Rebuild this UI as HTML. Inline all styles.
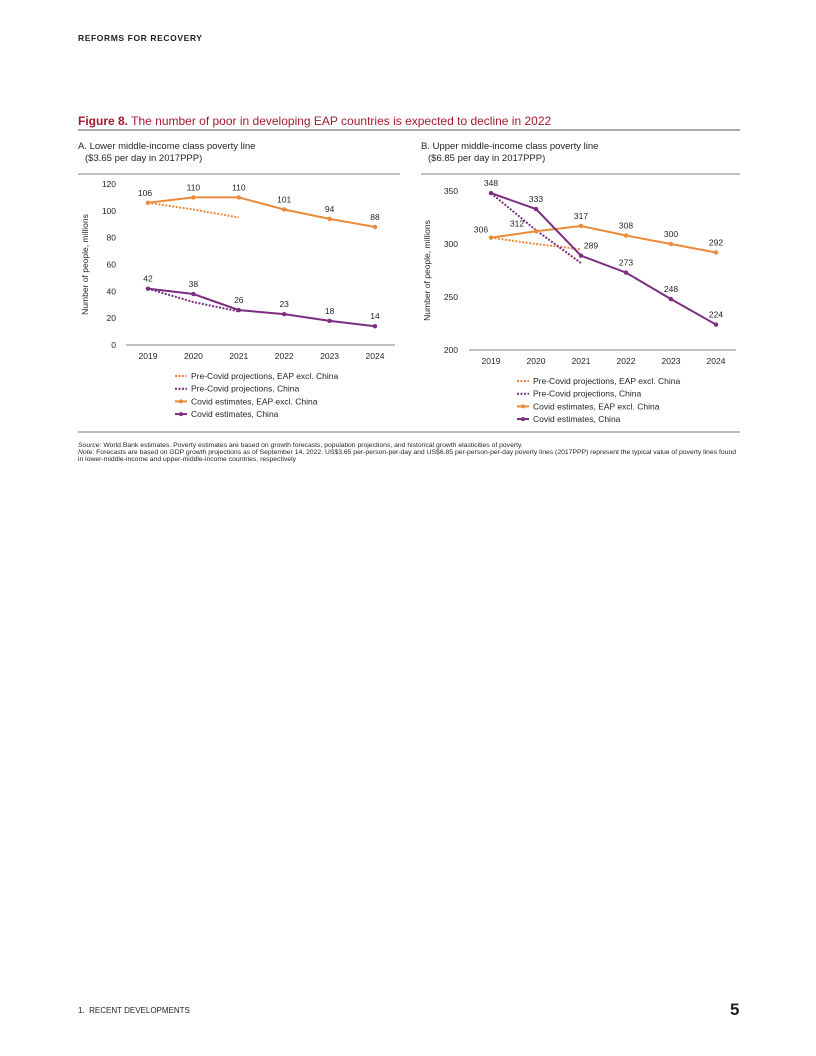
<!DOCTYPE html>
<html><head><meta charset="utf-8"><style>
body{margin:0;background:#fff;font-family:"Liberation Sans",sans-serif}
#pg{position:relative;width:816px;height:1056px;overflow:hidden}
.t{position:absolute;white-space:nowrap;color:#231f20}
</style></head><body>
<div id="pg">
<div class="t" style="left:78px;top:33px;font-size:8.5px;font-weight:bold;letter-spacing:0.6px">REFORMS FOR RECOVERY</div>
<div class="t" style="left:78px;top:114px;font-size:12px;color:#a5192e"><b>Figure 8.</b> The number of poor in developing EAP countries is expected to decline in 2022</div>
<svg id="chart" width="816" height="1056" style="position:absolute;left:0;top:0"></svg>
<div class="t" style="left:78px;top:443px;font-size:6.8px;line-height:6.8px"><i>Source:</i> World Bank estimates. Poverty estimates are based on growth forecasts, population projections, and historical growth elasticities of poverty.<br><i>Note:</i> Forecasts are based on GDP growth projections as of September 14, 2022. US$3.65 per-person-per-day and US$6.85 per-person-per-day poverty lines (2017PPP) represent the typical value of poverty lines found<br>in lower-middle-income and upper-middle-income countries, respectively</div>
<div class="t" style="left:78px;top:1006px;font-size:8px">1.&nbsp; RECENT DEVELOPMENTS</div>
<div class="t" style="left:730px;top:1000px;font-size:17px;font-weight:bold">5</div>
</div>
<script>
const years=['2019','2020','2021','2022','2023','2024'];
const aCovidEAP=[106,110,110,101,94,88];
const aCovidChina=[42,38,26,23,18,14];
const aPreEAP=[106,101,95];
const aPreChina=[42,32,25];
const aTicks=[0,20,40,60,80,100,120];
const bCovidEAP=[306,312,317,308,300,292];
const bCovidChina=[348,333,289,273,248,224];
const bPreEAP=[306,300,295];
const bPreChina=[348,313,282];
const bTicks=[200,250,300,350];
const legendLabels=['Pre-Covid projections, EAP excl. China','Pre-Covid projections, China','Covid estimates, EAP excl. China','Covid estimates, China'];
const OR='#ea8a3a',PU='#7b2d80';
const svg=document.getElementById('chart');
const NS='http://www.w3.org/2000/svg';
function mk(tag,at,txt){const e=document.createElementNS(NS,tag);for(const k in at)e.setAttribute(k,at[k]);if(txt!=null)e.textContent=txt;svg.appendChild(e);return e;}
function panel(p){
  const x=i=>p.x0+i*p.dx;
  const y=v=>p.yb-(v-p.vmin)/(p.vmax-p.vmin)*(p.yb-p.yt);
  let e=mk('line',{x1:p.lx1,x2:p.lx2,y1:p.ty+25,y2:p.ty+25,stroke:'#999','stroke-width':1.2});
  
  e=mk('text',{x:p.lx1,y:p.ty,'font-size':9.5,fill:'#231f20'},p.t1);
  
  e=mk('text',{x:p.lx1+7,y:p.ty+12,'font-size':9.5,fill:'#231f20'},p.t2);
  
  p.ticks.forEach(v=>{const t=mk('text',{x:p.tx,y:y(v)+3,'font-size':8.5,'text-anchor':'end',fill:'#231f20'},v);
    });
  e=mk('line',{x1:p.x0-22,x2:x(5)+20,y1:p.yb,y2:p.yb,stroke:'#999','stroke-width':1.3});
  
  years.forEach((yr,i)=>{const t=mk('text',{x:x(i),y:p.yb+14,'font-size':8.5,'text-anchor':'middle',fill:'#231f20'},yr);
    });
  e=mk('text',{x:0,y:0,'font-size':8.5,'text-anchor':'middle',fill:'#231f20',transform:`translate(${p.ax},${(p.yt+p.yb)/2}) rotate(-90)`},'Number of people, millions');
  
  const pts=a=>a.map((v,i)=>x(i)+','+y(v)).join(' ');
  [[p.preE,OR,'pre-covid-eap-line'],[p.preC,PU,'pre-covid-china-line']].forEach(([a,c,n])=>{
    const l=mk('polyline',{points:pts(a),fill:'none',stroke:c,'stroke-width':2,'stroke-dasharray':'2 1.5'});
    });
  [[p.covE,OR,'covid-eap'],[p.covC,PU,'covid-china']].forEach(([a,c,n],si)=>{
    const l=mk('polyline',{points:pts(a),fill:'none',stroke:c,'stroke-width':2});
    
    a.forEach((v,i)=>{const d=mk('circle',{cx:x(i),cy:y(v),r:2.2,fill:c});
      
      const off=p.lab[si][i];
      const t=mk('text',{x:x(i)+off[0],y:y(v)+off[1],'font-size':8.5,'text-anchor':'middle',fill:'#231f20'},v);
      });
  });
  legendLabels.forEach((s,i)=>{const ly=p.ly+i*12.7,c=i%2?PU:OR;
    const l=mk('line',{x1:p.lgx,x2:p.lgx+12,y1:ly,y2:ly,stroke:c,'stroke-width':2,'stroke-dasharray':i<2?'2 1.5':'none'});
    
    if(i>=2){const d=mk('circle',{cx:p.lgx+6,cy:ly,r:2,fill:c});}
    const t=mk('text',{x:p.lgx+16,y:ly+3,'font-size':8.5,fill:'#231f20'},s);
    });
}
const up=[0,-7];
panel({id:'panel-a',t1:'A. Lower middle-income class poverty line',t2:'($3.65 per day in 2017PPP)',lx1:78,lx2:400,ty:149,
  x0:148,dx:45.4,yb:345,yt:184,vmin:0,vmax:120,ticks:aTicks,tx:116,ax:88,
  covE:aCovidEAP,covC:aCovidChina,preE:aPreEAP,preC:aPreChina,
  lab:[[[-3,-7],up,up,up,up,up],[up,up,up,up,up,up]],lgx:175,ly:376});
panel({id:'panel-b',t1:'B. Upper middle-income class poverty line',t2:'($6.85 per day in 2017PPP)',lx1:421,lx2:740,ty:149,
  x0:491,dx:45,yb:350,yt:191,vmin:200,vmax:350,ticks:bTicks,tx:458,ax:430,
  covE:bCovidEAP,covC:bCovidChina,preE:bPreEAP,preC:bPreChina,
  lab:[[[-10,-5],[-19,-5],up,up,up,up],[up,up,[10,-7],up,up,up]],lgx:517,ly:381});
let r=document.createElementNS(NS,'line');
[['x1',78],['x2',740],['y1',130],['y2',130],['stroke','#555'],['stroke-width',1]].forEach(([k,v])=>r.setAttribute(k,v));


svg.appendChild(r);
r=document.createElementNS(NS,'line');
[['x1',78],['x2',740],['y1',432],['y2',432],['stroke','#777'],['stroke-width',1]].forEach(([k,v])=>r.setAttribute(k,v));


svg.appendChild(r);
</script>
</body></html>
